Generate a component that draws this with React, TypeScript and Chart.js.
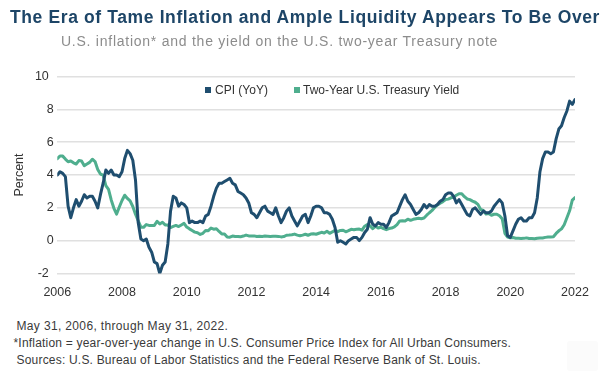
import React, { useEffect, useRef } from 'react';
import { Chart, registerables } from 'chart.js';

Chart.register(...registerables);

// Monthly observations, May 2006 through May 2022 (193 months)
const yearLabels = ['2006', '2008', '2010', '2012', '2014', '2016', '2018', '2020', '2022'];

const cpiYoY = [
  // 2006 May-Dec
  4.0, 4.2, 4.1, 3.9, 2.1, 1.4, 2.0, 2.5,
  // 2007
  2.1, 2.4, 2.8, 2.6, 2.7, 2.7, 2.4, 2.0, 2.8, 3.5, 4.3, 4.1,
  // 2008
  4.3, 4.0, 4.0, 3.9, 4.2, 5.0, 5.5, 5.3, 4.9, 3.7, 1.1, 0.1,
  // 2009
  0.0, 0.1, -0.4, -0.7, -1.3, -1.4, -2.0, -1.5, -1.3, -0.2, 1.8, 2.7,
  // 2010
  2.6, 2.1, 2.3, 2.2, 2.0, 1.1, 1.2, 1.1, 1.1, 1.2, 1.1, 1.5,
  // 2011
  1.6, 2.1, 2.7, 3.2, 3.5, 3.5, 3.6, 3.7, 3.8, 3.5, 3.4, 3.0,
  // 2012
  2.9, 2.8, 2.6, 2.3, 1.7, 1.6, 1.4, 1.7, 2.0, 2.1, 1.8, 1.7,
  // 2013
  1.6, 2.0, 1.5, 1.1, 1.4, 1.8, 2.0, 1.5, 1.2, 0.9, 1.2, 1.5,
  // 2014
  1.6, 1.1, 1.5, 2.0, 2.1, 2.1, 2.0, 1.7, 1.7, 1.6, 1.3, 0.8,
  // 2015
  -0.1, 0.0, -0.1, -0.2, 0.0, 0.1, 0.2, 0.2, 0.0, 0.2, 0.5, 0.7,
  // 2016
  1.4, 1.0, 0.9, 1.1, 1.0, 1.0, 0.8, 1.1, 1.5, 1.6, 1.7, 2.1,
  // 2017
  2.5, 2.8, 2.4, 2.2, 1.9, 1.6, 1.7, 1.9, 2.2, 2.0, 2.2, 2.1,
  // 2018
  2.1, 2.2, 2.4, 2.5, 2.8, 2.9, 2.9, 2.7, 2.3, 2.5, 2.2, 1.9,
  // 2019
  1.6, 1.5, 1.9, 2.0, 1.8, 1.6, 1.8, 1.7, 1.7, 1.8, 2.1, 2.3,
  // 2020
  2.5, 2.3, 1.5, 0.3, 0.2, 0.6, 1.0, 1.3, 1.4, 1.2, 1.2, 1.4,
  // 2021
  1.4, 1.7, 2.6, 4.2, 5.0, 5.4, 5.4, 5.3, 5.4, 6.2, 6.8, 7.0,
  // 2022 Jan-May
  7.5, 7.9, 8.5, 8.3, 8.6,
];

const twoYearYield = [
  // 2006 May-Dec
  5.0, 5.16, 5.15, 4.97, 4.81, 4.85, 4.74, 4.67,
  // 2007
  4.88, 4.85, 4.57, 4.67, 4.77, 4.96, 4.82, 4.34, 4.06, 3.99, 3.35, 3.12,
  // 2008
  2.48, 1.97, 1.62, 2.05, 2.45, 2.77, 2.57, 2.42, 2.08, 1.61, 1.21, 0.82,
  // 2009
  0.81, 0.98, 0.93, 0.93, 0.93, 1.18, 1.02, 1.12, 0.96, 0.95, 0.8, 0.87,
  // 2010
  0.93, 0.86, 0.96, 1.06, 0.83, 0.72, 0.62, 0.52, 0.48, 0.38, 0.45, 0.62,
  // 2011
  0.61, 0.77, 0.7, 0.73, 0.56, 0.41, 0.41, 0.23, 0.21, 0.28, 0.25, 0.26,
  // 2012
  0.24, 0.28, 0.34, 0.29, 0.29, 0.29, 0.25, 0.27, 0.26, 0.28, 0.27, 0.26,
  // 2013
  0.27, 0.27, 0.26, 0.23, 0.25, 0.33, 0.34, 0.36, 0.4, 0.34, 0.3, 0.34,
  // 2014
  0.39, 0.33, 0.4, 0.42, 0.39, 0.45, 0.51, 0.47, 0.57, 0.45, 0.53, 0.64,
  // 2015
  0.55, 0.62, 0.64, 0.54, 0.61, 0.69, 0.67, 0.7, 0.71, 0.64, 0.88, 0.98,
  // 2016
  0.9, 0.73, 0.88, 0.77, 0.82, 0.73, 0.67, 0.74, 0.77, 0.84, 0.98, 1.2,
  // 2017
  1.21, 1.2, 1.31, 1.24, 1.3, 1.34, 1.37, 1.34, 1.38, 1.55, 1.7, 1.84,
  // 2018
  2.03, 2.18, 2.28, 2.38, 2.51, 2.53, 2.61, 2.64, 2.77, 2.86, 2.86, 2.68,
  // 2019
  2.54, 2.5, 2.41, 2.34, 2.21, 1.9, 1.84, 1.62, 1.65, 1.55, 1.61, 1.61,
  // 2020
  1.52, 1.33, 0.45, 0.22, 0.17, 0.19, 0.15, 0.14, 0.13, 0.14, 0.17, 0.13,
  // 2021
  0.13, 0.12, 0.15, 0.16, 0.16, 0.2, 0.22, 0.22, 0.24, 0.44, 0.6, 0.72,
  // 2022 Jan-May
  0.97, 1.4, 1.82, 2.47, 2.62,
];

const CPI_COLOR = '#1f4e6f';
const YIELD_COLOR = '#4fae8e';
const FONT = '"Liberation Sans", Arial, Helvetica, sans-serif';

export default function App() {
  const canvasRef = useRef<HTMLCanvasElement>(null);

  useEffect(() => {
    const canvas = canvasRef.current;
    if (!canvas) return;
    Chart.defaults.font.family = FONT;
    const chart = new Chart(canvas, {
      type: 'line',
      data: {
        datasets: [
          {
            label: 'CPI (YoY)',
            data: cpiYoY.map((y, i) => ({ x: i, y })),
            borderColor: CPI_COLOR,
            backgroundColor: CPI_COLOR,
            borderWidth: 3,
            pointRadius: 0,
            tension: 0,
            borderJoinStyle: 'round',
            borderCapStyle: 'round',
          },
          {
            label: 'Two-Year U.S. Treasury Yield',
            data: twoYearYield.map((y, i) => ({ x: i, y })),
            borderColor: YIELD_COLOR,
            backgroundColor: YIELD_COLOR,
            borderWidth: 3,
            pointRadius: 0,
            tension: 0,
            borderJoinStyle: 'round',
            borderCapStyle: 'round',
          },
        ],
      },
      options: {
        animation: false,
        responsive: false,
        maintainAspectRatio: false,
        events: [],
        layout: { padding: { top: 76.5, right: 39, bottom: 6.5, left: 0 } },
        plugins: {
          legend: { display: false },
          tooltip: { enabled: false },
        },
        scales: {
          x: {
            type: 'linear',
            min: 0,
            max: 192,
            grid: { display: false, drawTicks: false },
            border: { display: false },
            ticks: {
              stepSize: 24,
              autoSkip: false,
              maxRotation: 0,
              padding: 12,
              color: '#333333',
              font: { size: 12.5, family: FONT },
              callback: (v: any) => {
                const idx = Math.round(Number(v) / 24);
                return Number(v) % 24 === 0 ? yearLabels[idx] : '';
              },
            },
            afterFit: (s: any) => {
              s.height = 30;
            },
          },
          y: {
            min: -2,
            max: 10,
            grid: { color: '#e0e0e0', lineWidth: 1.5, drawTicks: false },
            border: { display: false },
            ticks: {
              stepSize: 2,
              padding: 3.5,
              color: '#333333',
              font: { size: 12.5, family: FONT },
              callback: (v: any) => {
                const s = String(v);
                return s.length > 1 ? s + '\u2009\u2009' : s;
              },
            },
            title: {
              display: true,
              text: 'Percent',
              color: '#333333',
              font: { size: 12.5, family: FONT },
              padding: { top: 12.5, bottom: 0 },
            },
            afterFit: (s: any) => {
              s.width = 57.3;
            },
          },
        },
      },
    });
    return () => chart.destroy();
  }, []);

  const foot: React.CSSProperties = {
    position: 'absolute',
    fontSize: 12,
    lineHeight: '16.7px',
    letterSpacing: '0.2px',
    color: '#3a3a3a',
    whiteSpace: 'nowrap',
  };

  return (
    <div
      style={{
        position: 'fixed',
        left: 0,
        top: 0,
        width: 614,
        height: 377,
        background: '#ffffff',
        fontFamily: FONT,
        overflow: 'hidden',
      }}
    >
      <canvas
        ref={canvasRef}
        width={614}
        height={310}
        style={{ position: 'absolute', left: 0, top: 0, width: 614, height: 310 }}
      />
      <div
        style={{
          position: 'absolute',
          left: 10,
          top: 8.6,
          fontSize: 17.5,
          lineHeight: '17.5px',
          fontWeight: 700,
          letterSpacing: '0.62px',
          color: '#1d4567',
          whiteSpace: 'nowrap',
        }}
      >
        The Era of Tame Inflation and Ample Liquidity Appears To Be Over
      </div>
      <div
        style={{
          position: 'absolute',
          left: 61,
          top: 34,
          fontSize: 14,
          lineHeight: '14px',
          letterSpacing: '0.75px',
          color: '#8c8c8c',
          whiteSpace: 'nowrap',
        }}
      >
        U.S. inflation* and the yield on the U.S. two-year Treasury note
      </div>

      {/* Legend */}
      <div style={{ position: 'absolute', left: 205, top: 87.3, width: 5.5, height: 5.5, background: CPI_COLOR }} />
      <div
        style={{ position: 'absolute', left: 215, top: 83.8, fontSize: 12, lineHeight: '12px', color: '#333', whiteSpace: 'nowrap' }}
      >
        CPI (YoY)
      </div>
      <div style={{ position: 'absolute', left: 294, top: 87.3, width: 5.5, height: 5.5, background: YIELD_COLOR }} />
      <div
        style={{ position: 'absolute', left: 303, top: 83.8, fontSize: 12, lineHeight: '12px', color: '#333', whiteSpace: 'nowrap' }}
      >
        Two-Year U.S. Treasury Yield
      </div>

      {/* Footnotes */}
      <div style={{ ...foot, left: 16.5, top: 318.2, letterSpacing: '0.35px' }}>May 31, 2006, through May 31, 2022.</div>
      <div style={{ ...foot, left: 13.5, top: 334.9 }}>
        *Inflation = year-over-year change in U.S. Consumer Price Index for All Urban Consumers.
      </div>
      <div style={{ ...foot, left: 16.5, top: 351.6 }}>
        Sources: U.S. Bureau of Labor Statistics and the Federal Reserve Bank of St. Louis.
      </div>
      <div
        style={{
          position: 'absolute',
          left: 567,
          top: 341,
          width: 31,
          height: 30,
          borderRadius: 3,
          background: '#fbfbfb',
        }}
      />
    </div>
  );
}
